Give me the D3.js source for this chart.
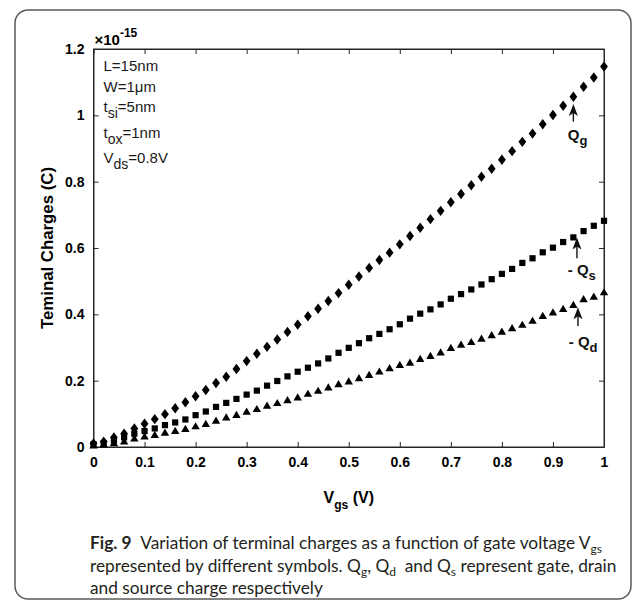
<!DOCTYPE html>
<html>
<head>
<meta charset="utf-8">
<script src="https://cdn.jsdelivr.net/npm/d3@7"></script>
<style>
  html, body { margin: 0; padding: 0; background: #fff; }
  svg { display: block; }
</style>
</head>
<body>
<svg id="chart" width="633" height="600"></svg>
<script>
// ---------------- data ----------------
const vgs = [0.00,0.02,0.04,0.06,0.08,0.10,0.12,0.14,0.16,0.18,
             0.20,0.22,0.24,0.26,0.28,0.30,0.32,0.34,0.36,0.38,
             0.40,0.42,0.44,0.46,0.48,0.50,0.52,0.54,0.56,0.58,
             0.60,0.62,0.64,0.66,0.68,0.70,0.72,0.74,0.76,0.78,
             0.80,0.82,0.84,0.86,0.88,0.90,0.92,0.94,0.96,0.98,1.00];

// charges in units of 1e-15 C
const qg = [0.011,0.016,0.029,0.040,0.056,0.070,0.084,0.099,0.117,0.135,
            0.153,0.172,0.193,0.212,0.235,0.259,0.281,0.302,0.324,0.347,
            0.369,0.394,0.417,0.440,0.464,0.489,0.514,0.540,0.564,0.586,
            0.611,0.636,0.661,0.687,0.712,0.738,0.763,0.789,0.815,0.839,
            0.866,0.892,0.920,0.945,0.973,1.001,1.029,1.056,1.086,1.114,1.147];

const qs = [0.008,0.012,0.019,0.029,0.040,0.048,0.056,0.066,0.074,0.083,
            0.096,0.107,0.121,0.133,0.145,0.158,0.170,0.185,0.199,0.213,
            0.227,0.239,0.252,0.267,0.284,0.299,0.313,0.328,0.341,0.355,
            0.370,0.387,0.402,0.415,0.430,0.447,0.461,0.475,0.490,0.506,
            0.522,0.537,0.555,0.569,0.587,0.601,0.618,0.632,0.651,0.667,0.682];

const qd = [0.004,0.007,0.011,0.016,0.025,0.031,0.036,0.043,0.048,0.054,
            0.062,0.069,0.079,0.089,0.096,0.106,0.114,0.124,0.132,0.141,
            0.149,0.160,0.169,0.179,0.189,0.197,0.207,0.217,0.227,0.237,
            0.247,0.254,0.265,0.274,0.285,0.298,0.308,0.316,0.326,0.337,
            0.347,0.358,0.368,0.380,0.395,0.405,0.416,0.428,0.445,0.453,0.466];

const xTicks = [0,0.1,0.2,0.3,0.4,0.5,0.6,0.7,0.8,0.9,1];
const xTickLabels = ["0","0.1","0.2","0.3","0.4","0.5","0.6","0.7","0.8","0.9","1"];
const yTicks = [0,0.2,0.4,0.6,0.8,1,1.2];
const yTickLabels = ["0","0.2","0.4","0.6","0.8","1","1.2"];

const paramLines = [
  {main:"L=15nm"},
  {main:"W=1\u03BCm"},
  {pre:"t", sub:"si", post:"=5nm"},
  {pre:"t", sub:"ox", post:"=1nm"},
  {pre:"V", sub:"ds", post:"=0.8V"}
];

// annotation arrows (data coordinates)
const annotations = [
  {prefix:"", sub:"g", ax:0.940, tipY:1.034, tailY:0.981, lx:0.929, ly:0.925},
  {prefix:"- ", sub:"s", ax:0.947, tipY:0.632, tailY:0.569, lx:0.929, ly:0.519},
  {prefix:"- ", sub:"d", ax:0.949, tipY:0.421, tailY:0.365, lx:0.931, ly:0.301}
];

// ---------------- layout ----------------
const svg = d3.select("#chart");
const W = 633, H = 600;
const pLeft = 93.5, pRight = 604, pTop = 49, pBottom = 447;

const x = d3.scaleLinear().domain([0,1]).range([pLeft,pRight]);
const y = d3.scaleLinear().domain([0,1.2]).range([pBottom,pTop]);

const axisFont = "'Liberation Sans', Arial, sans-serif";
const ink = "#262626";

// card border
svg.append("rect")
  .attr("x",15).attr("y",10).attr("width",616).attr("height",589)
  .attr("rx",13).attr("ry",13)
  .attr("fill","#fff").attr("stroke","#5a5a5a").attr("stroke-width",1.5);

// axes
const gx = svg.append("g").attr("transform",`translate(0,${pBottom})`)
  .call(d3.axisBottom(x).tickValues(xTicks).tickFormat((d,i)=>xTickLabels[i])
        .tickSizeInner(-5).tickSizeOuter(0).tickPadding(10));
const gxt = svg.append("g").attr("transform",`translate(0,${pTop})`)
  .call(d3.axisTop(x).tickValues(xTicks).tickFormat("")
        .tickSizeInner(-5).tickSizeOuter(0));
const gy = svg.append("g").attr("transform",`translate(${pLeft},0)`)
  .call(d3.axisLeft(y).tickValues(yTicks).tickFormat((d,i)=>yTickLabels[i])
        .tickSizeInner(-5).tickSizeOuter(0).tickPadding(9));
const gyr = svg.append("g").attr("transform",`translate(${pRight},0)`)
  .call(d3.axisRight(y).tickValues(yTicks).tickFormat("")
        .tickSizeInner(-5).tickSizeOuter(0));

[gx,gxt,gy,gyr].forEach(g=>{
  g.select(".domain").attr("stroke",ink).attr("stroke-width",1);
  g.selectAll(".tick line").attr("stroke",ink).attr("stroke-width",1);
  g.selectAll(".tick text").attr("fill","#000")
    .style("font-family",axisFont).style("font-size","14px").style("font-weight","bold");
});

// box
svg.append("rect").attr("x",pLeft).attr("y",pTop)
  .attr("width",pRight-pLeft).attr("height",pBottom-pTop)
  .attr("fill","none").attr("stroke",ink).attr("stroke-width",1);

// exponent label
const ex = svg.append("text").attr("x",pLeft+1).attr("y",45)
  .style("font-family",axisFont).style("font-size","15px").style("font-weight","bold").attr("fill","#000");
ex.append("tspan").text("\u00D710");
ex.append("tspan").attr("dy",-8).style("font-size","12px").text("-15");

// axis titles
const xt = svg.append("text").attr("x",(pLeft+pRight)/2).attr("y",503)
  .attr("text-anchor","middle")
  .style("font-family",axisFont).style("font-size","16px").style("font-weight","bold").attr("fill","#000");
xt.append("tspan").text("V");
xt.append("tspan").attr("dy",6).style("font-size","12px").text("gs");
xt.append("tspan").attr("dy",-6).text(" (V)");

svg.append("text")
  .attr("transform",`translate(53,${(pTop+pBottom)/2}) rotate(-90)`)
  .attr("text-anchor","middle")
  .style("font-family",axisFont).style("font-size","16.8px").style("font-weight","bold").attr("fill","#000")
  .text("Teminal Charges (C)");

// parameter text block
const paramY = [71, 91.7, 111.7, 137.7, 163];
paramLines.forEach((p,i)=>{
  const t = svg.append("text").attr("x",103.5).attr("y",paramY[i])
    .style("font-family",axisFont).style("font-size","15px").attr("fill","#1a1a1a");
  if (p.main) { t.text(p.main); return; }
  t.append("tspan").text(p.pre);
  t.append("tspan").attr("dy",6).style("font-size","14px").text(p.sub);
  t.append("tspan").attr("dy",-6).text(p.post);
});

// ---------------- markers ----------------
const data = vgs.map((v,i)=>({v, g:qg[i], s:qs[i], d:qd[i]}));

const triPath = "M0,-4.3 L4.2,2.9 L-4.2,2.9 Z";
svg.append("g").selectAll("path").data(data).join("path")
  .attr("transform",d=>`translate(${x(d.v)},${y(d.d)})`)
  .attr("d",triPath).attr("fill","#000");

svg.append("g").selectAll("rect").data(data).join("rect")
  .attr("x",d=>x(d.v)-3.1).attr("y",d=>y(d.s)-3.1)
  .attr("width",6.2).attr("height",6.2).attr("fill","#000");

const diaPath = "M0,-5.2 L3.9,0 L0,5.2 L-3.9,0 Z";
svg.append("g").selectAll("path").data(data).join("path")
  .attr("transform",d=>`translate(${x(d.v)},${y(d.g)})`)
  .attr("d",diaPath).attr("fill","#000");

// ---------------- annotations ----------------
annotations.forEach(a=>{
  const ax = x(a.ax), ty = y(a.tipY), by = y(a.tailY);
  svg.append("line").attr("x1",ax).attr("x2",ax).attr("y1",ty+8).attr("y2",by)
    .attr("stroke","#111").attr("stroke-width",1.4);
  svg.append("path")
    .attr("d",`M${ax},${ty} L${ax+4.5},${ty+12} L${ax},${ty+9} L${ax-4.5},${ty+12} Z`)
    .attr("fill","#111");
  const t = svg.append("text").attr("x",x(a.lx)).attr("y",y(a.ly))
    .style("font-family",axisFont).style("font-size","15px").style("font-weight","bold").attr("fill","#111");
  t.append("tspan").text(a.prefix + "Q");
  t.append("tspan").attr("dy",5).style("font-size","13px").text(a.sub);
});

// ---------------- caption ----------------
const capFont = "Lato, 'Open Sans', sans-serif";
const capColor = "#231f20";
const capSize = "17.3px";
const c1 = svg.append("text").attr("x",90).attr("y",549)
  .style("font-family",capFont).style("font-size",capSize).attr("fill",capColor);
c1.append("tspan").style("font-weight","bold").text("Fig. 9");
c1.append("tspan").text("\u2002Variation of terminal charges as a function of gate voltage V");
c1.append("tspan").attr("dy",4).style("font-size","12px").text("gs");

const c2 = svg.append("text").attr("x",90).attr("y",572)
  .style("font-family",capFont).style("font-size",capSize).attr("fill",capColor);
c2.append("tspan").text("represented by different symbols. Q");
c2.append("tspan").attr("dy",4).style("font-size","12px").text("g");
c2.append("tspan").attr("dy",-4).text(", Q");
c2.append("tspan").attr("dy",4).style("font-size","12px").text("d");
c2.append("tspan").attr("dy",-4).text("\u2002and Q");
c2.append("tspan").attr("dy",4).style("font-size","12px").text("s");
c2.append("tspan").attr("dy",-4).text(" represent gate, drain");

svg.append("text").attr("x",90).attr("y",594)
  .style("font-family",capFont).style("font-size",capSize).attr("fill",capColor)
  .text("and source charge respectively");
</script>
</body>
</html>
